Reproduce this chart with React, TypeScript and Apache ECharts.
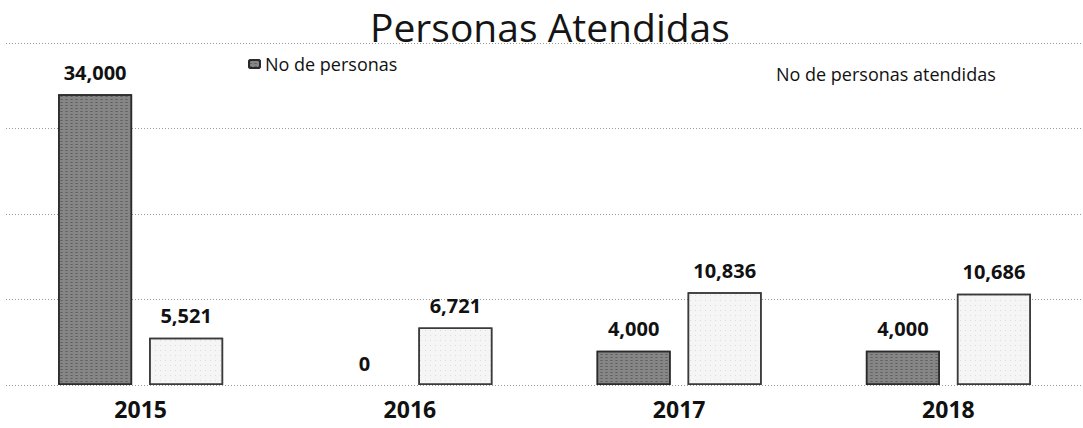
import React, { useEffect, useRef } from "react";
import * as echarts from "echarts";

const categories = ["2015", "2016", "2017", "2018"];
const seriesNames = ["No de personas", "No de personas atendidas"];
const personas = [34000, 0, 4000, 4000];
const atendidas = [5521, 6721, 10836, 10686];
const yMax = 40000;
const yInterval = 10000;

const FONT = "'Open Sans', 'Noto Sans', sans-serif";

export default function App() {
  const ref = useRef<HTMLDivElement>(null);
  useEffect(() => {
    if (!ref.current) return;
    const chart = echarts.init(ref.current, null, { renderer: "svg" });
    const labelStyle = {
      show: true,
      position: "top" as const,
      distance: 12,
      fontFamily: FONT,
      fontSize: 20,
      fontWeight: "bold" as const,
      color: "#111",
      formatter: (p: any) => Number(p.value).toLocaleString("en-US"),
    };
    // zero-height bars show no outline in the reference
    const hideZero = (arr: number[]) =>
      arr.map((v) => (v === 0 ? { value: v, itemStyle: { borderWidth: 0 } } : v));
    chart.setOption({
      animation: false,
      backgroundColor: "#ffffff",
      aria: { enabled: false, decal: { show: true } },
      title: {
        text: "Personas Atendidas",
        left: 370,
        top: 7,
        padding: 0,
        textStyle: { fontFamily: FONT, fontSize: 39, fontWeight: "normal", color: "#151515" },
      },
      legend: [
        {
          data: [seriesNames[0]],
          left: 243,
          top: 50,
          itemWidth: 11,
          itemHeight: 8,
          itemGap: 5,
          icon: "roundRect",
          textStyle: { fontFamily: FONT, fontSize: 18, color: "#111" },
        },
        {
          data: [{ name: seriesNames[1], itemStyle: { opacity: 0 } }],
          left: 753,
          top: 60,
          itemWidth: 12,
          itemHeight: 9,
          textStyle: { fontFamily: FONT, fontSize: 18, color: "#111" },
        },
      ],
      grid: { left: 6, top: 43, width: 1080, bottom: 43, containLabel: false },
      xAxis: {
        type: "category",
        data: categories,
        axisLine: { show: false },
        axisTick: { show: false },
        axisLabel: {
          fontFamily: FONT,
          fontSize: 23,
          fontWeight: "bold",
          color: "#111",
          margin: 12,
        },
      },
      yAxis: {
        type: "value",
        min: 0,
        max: yMax,
        interval: yInterval,
        axisLabel: { show: false },
        axisLine: { show: false },
        axisTick: { show: false },
        splitLine: { show: true, lineStyle: { color: "#9a9a9a", type: [1, 2], width: 1 } },
      },
      series: [
        {
          name: seriesNames[0],
          type: "bar",
          data: hideZero(personas),
          barWidth: 74,
          barGap: "23%",
          itemStyle: {
            color: "#868686",
            borderColor: "#2a2a2a",
            borderWidth: 1.5,
            decal: {
              symbol: "rect",
              symbolSize: 0.8,
              color: "rgba(50,50,50,0.45)",
              dashArrayX: [3, 2],
              dashArrayY: [1, 2],
              rotation: 0,
            },
          },
          label: labelStyle,
        },
        {
          name: seriesNames[1],
          type: "bar",
          data: atendidas,
          barWidth: 74,
          itemStyle: {
            color: "#f5f5f5",
            borderColor: "#3a3a3a",
            borderWidth: 1.5,
            decal: {
              symbol: "rect",
              symbolSize: 0.6,
              color: "rgba(90,90,90,0.55)",
              dashArrayX: [1, 4],
              dashArrayY: [1, 4],
              rotation: 0,
            },
          },
          label: labelStyle,
        },
      ],
    });
    return () => chart.dispose();
  }, []);
  return (
    <div
      ref={ref}
      style={{ position: "absolute", left: 0, top: 0, width: 1083, height: 428, background: "#fff" }}
    />
  );
}
